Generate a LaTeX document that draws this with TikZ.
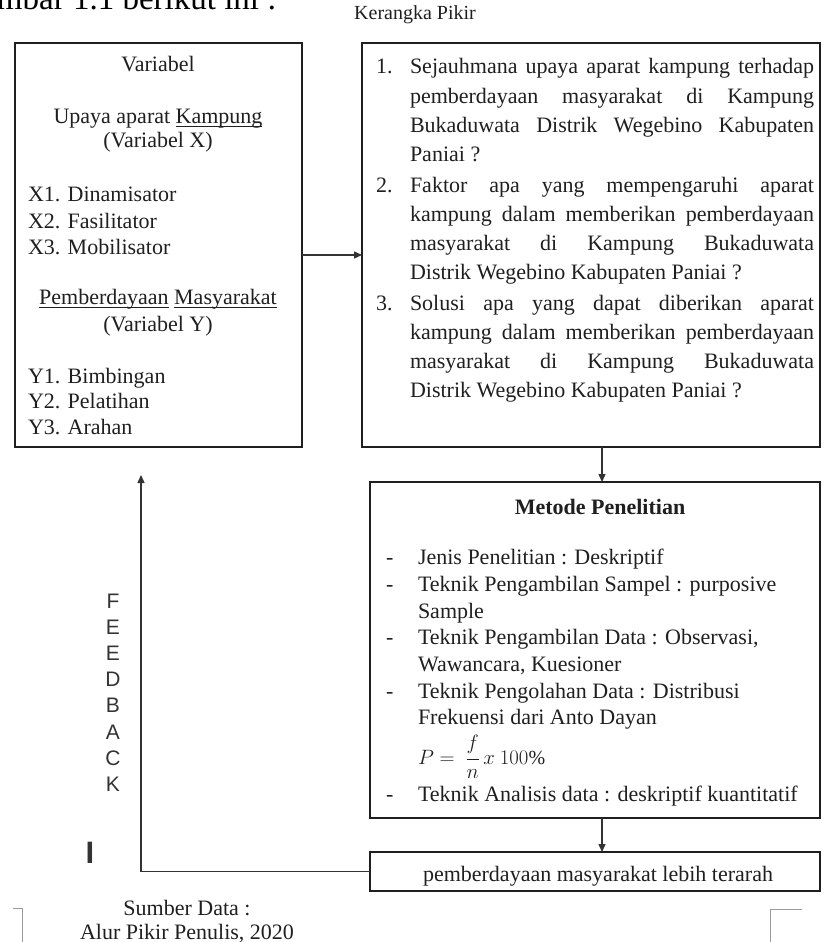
\documentclass[tikz,border=0pt]{standalone}
\usepackage{fontspec}
\setmainfont{Liberation Serif}
\newfontfamily\feedfont{Liberation Sans}
\usetikzlibrary{arrows.meta}

\definecolor{c1f1f1f}{RGB}{31,31,31}
\definecolor{c333333}{RGB}{51,51,51}
\definecolor{c9a9a9a}{RGB}{154,154,154}

\newcommand{\garisbawah}[1]{\underline{\raisebox{0pt}[\height][2pt]{#1}}}

\begin{document}
\begin{tikzpicture}[y=-1pt, x=1pt, inner sep=0pt, outer sep=0pt,
  boxline/.style={draw=c1f1f1f, line width=1.6pt, rectangle},
  arrowline/.style={draw=c333333, line width=1.4pt, -{Triangle[length=8pt, width=7pt]}},
  txt/.style={text=c1f1f1f, font=\fontsize{22}{26}\selectfont},
  qtxt/.style={text=c1f1f1f, font=\fontsize{22}{29.3}\selectfont, text width=404pt, align=justify},
  feed/.style={text=c333333, font=\feedfont\fontsize{21}{24}\selectfont}]
  \useasboundingbox (0,0) rectangle (823,942);
  \clip (0,0) rectangle (823,942);



  \node[text=black, font=\fontsize{33}{36}\selectfont, anchor=base west] (textGambar) at (-3, 10){mbar 1.1 berikut ini :};



  \node[txt, font=\fontsize{20}{24}\selectfont, anchor=base] (textKerangka) at (415, 20){Kerangka Pikir};



  \node[boxline, minimum width=287pt, minimum height=404pt, anchor=north west] (rectVariabel) at (15, 43){};



  \node[boxline, minimum width=458pt, minimum height=404pt, anchor=north west] (rectRumusan) at (362, 43){};



  \node[boxline, minimum width=450pt, minimum height=336pt, anchor=north west] (rectMetode) at (370, 482){};



  \node[boxline, minimum width=450pt, minimum height=39pt, anchor=north west] (rectHasil) at (370, 852){};



  \coordinate (ptPanahY) at (0, 255);
  \coordinate (ptPanahX) at (602, 0);
  \coordinate (ptFeedback) at (141, 475);



  \draw[arrowline] (rectVariabel.east |- ptPanahY) -- (rectRumusan.west |- ptPanahY);



  \draw[arrowline] (rectRumusan.south -| ptPanahX) -- (rectMetode.north -| ptPanahX);



  \draw[arrowline] (rectMetode.south -| ptPanahX) -- (rectHasil.north -| ptPanahX);



  \draw[arrowline] (rectHasil.west) -| (ptFeedback);



  \node[txt, anchor=base] (textVariabel) at (158, 71){Variabel};



  \node[txt, anchor=base] (textUpaya) at (158, 123){Upaya aparat \garisbawah{Kampung}};



  \node[txt, anchor=base] (textVarX) at (158, 147){(Variabel X)};



  \node[txt, anchor=base west] (textX1) at (28, 201){X1. Dinamisator};



  \node[txt, anchor=base west] (textX2) at (28, 228){X2. Fasilitator};



  \node[txt, anchor=base west] (textX3) at (28, 254){X3. Mobilisator};



  \node[txt, anchor=base] (textPemberdayaan) at (158, 304){\garisbawah{Pemberdayaan} \garisbawah{Masyarakat}};



  \node[txt, anchor=base] (textVarY) at (158, 331){(Variabel Y)};



  \node[txt, anchor=base west] (textY1) at (28, 383){Y1. Bimbingan};



  \node[txt, anchor=base west] (textY2) at (28, 408){Y2. Pelatihan};



  \node[txt, anchor=base west] (textY3) at (28, 434){Y3. Arahan};



  \node[txt, anchor=base west] (textNo1) at (376, 74){1.};



  \node[qtxt, anchor=base west] (textSoal1) at (410, 74){Sejauhmana upaya aparat kampung terhadap\linebreak pemberdayaan masyarakat di Kampung\linebreak Bukaduwata Distrik Wegebino Kabupaten\linebreak Paniai~?};



  \node[txt, anchor=base west] (textNo2) at (376, 192){2.};



  \node[qtxt, anchor=base west] (textSoal2) at (410, 192){Faktor apa yang mempengaruhi aparat\linebreak kampung dalam memberikan pemberdayaan\linebreak masyarakat di Kampung Bukaduwata\linebreak Distrik Wegebino Kabupaten Paniai~?};



  \node[txt, anchor=base west] (textNo3) at (376, 310){3.};



  \node[qtxt, anchor=base west] (textSoal3) at (410, 310){Solusi apa yang dapat diberikan aparat\linebreak kampung dalam memberikan pemberdayaan\linebreak masyarakat di Kampung Bukaduwata\linebreak Distrik Wegebino Kabupaten Paniai~?};



  \node[txt, font=\fontsize{22}{26}\selectfont\bfseries, anchor=base] (textMetode) at (600, 514){Metode Penelitian};



  \node[txt, anchor=base west] (textDash1) at (386, 564){-};
  \node[txt, anchor=base west] (textJenis) at (418, 564){Jenis Penelitian : Deskriptif};



  \node[txt, anchor=base west] (textDash2) at (386, 591){-};
  \node[txt, anchor=base west] (textSampel) at (418, 591){Teknik Pengambilan Sampel : purposive};
  \node[txt, anchor=base west] (textSampel2) at (418, 618){Sample};



  \node[txt, anchor=base west] (textDash3) at (386, 644){-};
  \node[txt, anchor=base west] (textData) at (418, 644){Teknik Pengambilan Data : Observasi,};
  \node[txt, anchor=base west] (textData2) at (418, 671){Wawancara, Kuesioner};



  \node[txt, anchor=base west] (textDash4) at (386, 698){-};
  \node[txt, anchor=base west] (textOlah) at (418, 698){Teknik Pengolahan Data : Distribusi};
  \node[txt, anchor=base west] (textOlah2) at (418, 724){Frekuensi dari Anto Dayan};



  \node[txt, font=\fontsize{20}{24}\selectfont, anchor=base west] (textRumus) at (418, 764){$P =\ \displaystyle\frac{f}{n}\, x\ 100\%$};



  \node[txt, anchor=base west] (textDash5) at (386, 801){-};
  \node[txt, anchor=base west] (textAnalisis) at (418, 801){Teknik Analisis data : deskriptif kuantitatif};



  \node[txt, anchor=base] (textHasil) at (598, 881){pemberdayaan masyarakat lebih terarah};



  \node[feed, anchor=base] (textF) at (113, 608){F};
  \node[feed, anchor=base] (textE1) at (113, 634.2){E};
  \node[feed, anchor=base] (textE2) at (113, 660.4){E};
  \node[feed, anchor=base] (textD) at (113, 686.6){D};
  \node[feed, anchor=base] (textB) at (113, 712.8){B};
  \node[feed, anchor=base] (textA) at (113, 739){A};
  \node[feed, anchor=base] (textC) at (113, 765.2){C};
  \node[feed, anchor=base] (textK) at (113, 791.4){K};



  \node[feed, font=\feedfont\bfseries\fontsize{31}{34}\selectfont, anchor=base] (textI) at (90, 863){I};



  \node[txt, anchor=base] (textSumber) at (187, 915){Sumber Data :};



  \node[txt, anchor=base] (textAlur) at (187, 939){Alur Pikir Penulis, 2020};



  \path[draw=c9a9a9a, line width=1pt] (13, 908) -- (22, 908) -- (22, 942);



  \path[draw=c9a9a9a, line width=1pt] (802, 909) -- (770, 909) -- (770, 942);




\end{tikzpicture}
\end{document}
